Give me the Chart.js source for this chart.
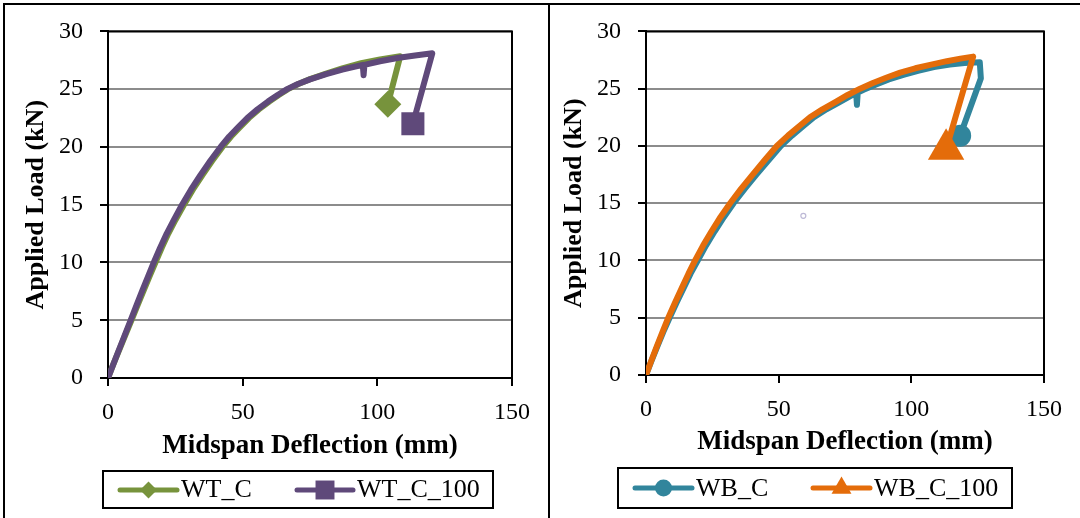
<!DOCTYPE html>
<html>
<head>
<meta charset="utf-8">
<script src="https://cdn.jsdelivr.net/npm/chart.js@4.4.1/dist/chart.umd.min.js"></script>
<style>
  body { margin: 0; background: #fff; }
  #wrap { position: relative; width: 1080px; height: 518px; overflow: hidden; background: #fff; }
  canvas { position: absolute; top: 0; }
  .rule { position: absolute; background: #000; }
</style>
</head>
<body>
<div id="wrap">
  <canvas id="chartWT" width="549" height="518" style="left:0"></canvas>
  <canvas id="chartWB" width="531" height="518" style="left:549px"></canvas>
  <div class="rule" style="left:3px;top:3px;width:1077px;height:2px"></div>
  <div class="rule" style="left:3px;top:3px;width:2px;height:515px"></div>
  <div class="rule" style="left:548px;top:3px;width:2px;height:515px"></div>
</div>
<script>
// values (deflection in mm, load in kN)
const wtcDefl = [0, 2, 4.1, 6.4, 8.7, 11, 13.3, 15.5, 17.6, 20, 22.4, 25.1, 28.2, 31.5, 35, 38.7, 42.5, 45.7, 49,
    52.3, 56, 60, 63.4, 66.8, 70.7, 75, 81, 87, 94, 101, 108.5, 103.9];
const wtcLoad = [0, 1.2, 2.4, 3.7, 5, 6.3, 7.6, 8.85, 10, 11.3, 12.5, 13.7, 15, 16.3, 17.55, 18.8, 20, 20.9, 21.7,
    22.5, 23.25, 23.95, 24.5, 25, 25.45, 25.87, 26.35, 26.8, 27.25, 27.58, 27.85, 23.7];

const wtc100Defl = [0, 2, 4, 6.2, 8.4, 10.6, 12.8, 15, 17, 19.4, 21.8, 24.5, 27.5, 30.8, 34.3, 38, 41.8, 45, 48.3,
    51.7, 55.5, 59.5, 63, 66.5, 70.5, 75, 81, 87, 94.6, 94.9, 95.2, 101, 108, 114, 120.4, 113.2];
const wtc100Load = [0, 1.2, 2.4, 3.7, 5, 6.3, 7.6, 8.85, 10, 11.3, 12.5, 13.7, 15, 16.3, 17.55, 18.8, 20, 20.9, 21.7,
    22.5, 23.25, 23.95, 24.5, 25, 25.45, 25.85, 26.3, 26.7, 27.1, 26.2, 27.1, 27.42, 27.72, 27.92, 28.1, 22.0];

const wbcDefl = [0, 2.1, 4.2, 6.5, 8.9, 11.6, 14.3, 16.8, 19.5, 22.6, 25.9, 29.4, 33, 37.2, 41.6, 46.2, 50.8, 55,
    59.1, 63.3, 68, 72.8, 77, 79.2, 79.5, 79.8, 82, 86.5, 91.5, 97, 102.5, 108.5, 114.5, 120, 125.8, 126.2, 118.4];
const wbcLoad = [0, 1.25, 2.45, 3.75, 5, 6.35, 7.65, 8.85, 10, 11.3, 12.55, 13.8, 15, 16.25, 17.5, 18.75, 20, 20.9,
    21.7, 22.5, 23.2, 23.8, 24.35, 24.6, 23.6, 24.65, 24.9, 25.35, 25.8, 26.2, 26.55, 26.88, 27.1, 27.25, 27.3, 25.9, 20.9];

const wbc100Defl = [0, 2, 4, 6.2, 8.4, 11, 13.6, 16, 18.5, 21.5, 24.7, 28.1, 31.7, 35.8, 40.2, 44.7, 49.3, 53.5,
    57.6, 61.8, 66.5, 71.5, 76, 80.7, 85.5, 90.5, 95.8, 101.5, 107.5, 113.4, 118.5, 123.3, 113.1];
const wbc100Load = [0, 1.25, 2.45, 3.75, 5, 6.35, 7.65, 8.85, 10, 11.3, 12.55, 13.8, 15, 16.25, 17.5, 18.75, 20, 20.9,
    21.7, 22.5, 23.2, 23.85, 24.45, 25, 25.5, 25.95, 26.4, 26.78, 27.1, 27.4, 27.62, 27.8, 19.7];

// stray point in the right plot
const strayDefl = [59.3];
const strayLoad = [13.9];

const xTicks = [0, 50, 100, 150];
const yTicks = [0, 5, 10, 15, 20, 25, 30];

const FONT = "'Liberation Serif', 'Times New Roman', serif";

const toPoints = (xs, ys) => xs.map((x, i) => ({x: x, y: ys[i]}));
const endMarker = r => ctx => ctx.dataIndex === ctx.dataset.data.length - 1 ? r : 0;

// top and right edge of the plot area
const plotFrame = {
    id: 'plotFrame',
    beforeDatasetsDraw(chart) {
        const {ctx, chartArea: a} = chart;
        ctx.save();
        ctx.strokeStyle = '#000';
        ctx.lineWidth = 2;
        ctx.beginPath();
        ctx.moveTo(a.left, a.top);
        ctx.lineTo(a.right, a.top);
        ctx.lineTo(a.right, a.bottom);
        ctx.stroke();
        ctx.restore();
    }
};

// excel style legend: line with marker in a box
const lineLegend = {
    id: 'lineLegend',
    afterDraw(chart, args, opts) {
        const c = chart.ctx;
        const b = opts.box;
        c.save();
        c.strokeStyle = '#000';
        c.lineWidth = 2;
        c.strokeRect(b[0], b[1], b[2] - b[0], b[3] - b[1]);
        c.font = '26px ' + FONT;
        c.textBaseline = 'alphabetic';
        opts.items.forEach((it, i) => {
            const ds = chart.data.datasets[i];
            c.strokeStyle = ds.borderColor;
            c.lineWidth = 5;
            c.lineCap = 'round';
            c.beginPath();
            c.moveTo(it.x0, opts.lineY);
            c.lineTo(it.x1, opts.lineY);
            c.stroke();
            c.fillStyle = ds.borderColor;
            Chart.helpers.drawPoint(c, {pointStyle: ds.pointStyle, radius: it.r, borderWidth: 0, rotation: 0},
                (it.x0 + it.x1) / 2, opts.lineY);
            c.fillStyle = '#000';
            c.fillText(ds.label, it.textX, opts.baseY);
        });
        c.restore();
    }
};

function makeOptions(pad, yWidth, xHeight, legend) {
    return {
        responsive: false,
        animation: false,
        events: [],
        layout: {padding: pad},
        plugins: {
            legend: {display: false},
            tooltip: {enabled: false},
            lineLegend: legend
        },
        scales: {
            x: {
                type: 'linear',
                min: 0,
                max: 150,
                afterBuildTicks: s => { s.ticks = xTicks.map(v => ({value: v})); },
                afterFit: s => { s.height = xHeight; },
                grid: {drawOnChartArea: false, tickColor: '#000', tickLength: 8, lineWidth: 2},
                border: {color: '#000', width: 2},
                ticks: {color: '#000', padding: 12, maxRotation: 0, font: {family: FONT, size: 24}},
                title: {
                    display: true,
                    text: 'Midspan Deflection (mm)',
                    color: '#000',
                    padding: {top: 0, bottom: 0},
                    font: {family: FONT, size: 27, weight: 'bold'}
                }
            },
            y: {
                type: 'linear',
                min: 0,
                max: 30,
                afterBuildTicks: s => { s.ticks = yTicks.map(v => ({value: v})); },
                afterFit: s => { s.width = yWidth; },
                grid: {
                    color: c => c.tick && c.tick.value === 0 ? 'rgba(0,0,0,0)' : '#8c8c8c',
                    tickColor: '#000',
                    tickLength: 8,
                    lineWidth: 2
                },
                border: {color: '#000', width: 2},
                ticks: {color: '#000', padding: 17, font: {family: FONT, size: 24}},
                title: {
                    display: true,
                    text: 'Applied Load (kN)',
                    color: '#000',
                    padding: {top: 6, bottom: 0},
                    font: {family: FONT, size: 26, weight: 'bold'}
                }
            }
        }
    };
}

function seriesStyle(color, style, radius, order) {
    return {
        showLine: true,
        order: order,
        borderColor: color,
        backgroundColor: color,
        borderWidth: 6,
        borderCapStyle: 'round',
        borderJoinStyle: 'round',
        tension: 0,
        pointStyle: style,
        pointRadius: endMarker(radius),
        pointHoverRadius: 0,
        pointBorderWidth: 0
    };
}

const ctxWT = document.getElementById('chartWT').getContext('2d');
new Chart(ctxWT, {
    type: 'scatter',
    data: {
        datasets: [
            Object.assign({label: 'WT_C', data: toPoints(wtcDefl, wtcLoad)},
                seriesStyle('#77933C', 'rectRot', 13.5, 2)),
            Object.assign({label: 'WT_C_100', data: toPoints(wtc100Defl, wtc100Load)},
                seriesStyle('#5F497A', 'rect', 16.3, 1))
        ]
    },
    options: makeOptions({left: 15, right: 37, top: 24, bottom: 56}, 93, 84, {
        box: [103, 471, 493, 508],
        lineY: 490,
        baseY: 497,
        items: [
            {x0: 120, x1: 177, r: 8.5, textX: 181},
            {x0: 297, x1: 353, r: 13.4, textX: 357}
        ]
    }),
    plugins: [plotFrame, lineLegend]
});

const ctxWB = document.getElementById('chartWB').getContext('2d');
new Chart(ctxWB, {
    type: 'scatter',
    data: {
        datasets: [
            Object.assign({label: 'WB_C', data: toPoints(wbcDefl, wbcLoad)},
                seriesStyle('#31859C', 'circle', 11, 2)),
            Object.assign({label: 'WB_C_100', data: toPoints(wbc100Defl, wbc100Load)},
                seriesStyle('#E46C0A', 'triangle', 21, 1)),
            {
                label: '',
                data: toPoints(strayDefl, strayLoad),
                showLine: false,
                order: 3,
                borderColor: '#bdb9d6',
                backgroundColor: '#fff',
                pointRadius: 2.5,
                pointHoverRadius: 0,
                pointBorderWidth: 1.2
            }
        ]
    },
    options: makeOptions({left: 4, right: 36, top: 24, bottom: 60}, 93, 83, {
        box: [69, 468, 463, 508],
        lineY: 488,
        baseY: 496,
        items: [
            {x0: 86, x1: 143, r: 8.5, textX: 147},
            {x0: 264, x1: 321, r: 11.5, textX: 325}
        ]
    }),
    plugins: [plotFrame, lineLegend]
});
</script>
</body>
</html>
